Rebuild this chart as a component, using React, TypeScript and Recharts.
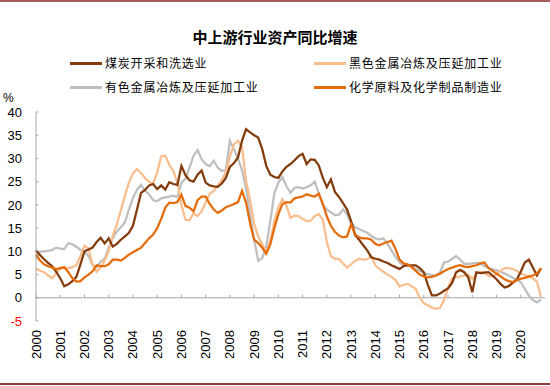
import React from "react";
import {
  LineChart,
  Line,
  XAxis,
  YAxis,
  ReferenceLine,
} from "recharts";

// 双月数据：每年 1、3、5、7、9、11 月
const YEARS = [
  2000, 2001, 2002, 2003, 2004, 2005, 2006, 2007, 2008, 2009, 2010,
  2011, 2012, 2013, 2014, 2015, 2016, 2017, 2018, 2019, 2020,
];
const MONTH_OFFSETS = [0, 2, 4, 6, 8, 10];

const COAL = [
  10.2, 9.2, 8.3, 7.5, 6.8, 5.6,
  4.2, 2.5, 2.9, 3.6, 4.5, 7.2,
  10.0, 10.4, 10.8, 12.0, 12.9, 11.7,
  12.8, 11.0, 11.6, 12.5, 13.2, 14.0,
  15.5, 19.0, 22.6, 23.2, 24.2, 24.5,
  23.4, 24.2, 23.3, 24.9, 24.5, 24.3,
  28.4, 26.4, 25.3, 25.0, 26.5, 27.4,
  24.8, 24.2, 24.0, 23.9, 24.6, 25.8,
  28.2, 29.0, 30.2, 33.8, 36.3, 35.6,
  35.0, 34.5, 32.0, 28.4, 26.5, 26.0,
  25.8, 27.2, 28.2, 28.8, 29.6, 30.5,
  31.0, 28.8, 29.8, 29.7, 28.5, 25.8,
  23.8, 25.5, 22.8, 21.7, 20.4, 19.0,
  16.5, 13.5, 12.5, 11.3, 10.2, 8.7,
  8.4, 8.2, 7.8, 7.5, 7.0, 6.6,
  6.2, 6.8, 7.0, 7.0, 7.0, 6.4,
  5.5, 2.8, 0.5, 0.5, 0.9, 1.5,
  2.0, 3.2, 5.5, 6.0, 5.5, 4.4,
  1.2, 5.5, 5.3, 5.4, 5.5, 4.8,
  4.0, 3.0, 2.2, 2.5, 3.2, 3.9,
  5.6, 7.6, 8.2, 6.5, 4.8, 6.3,
];

const FERROUS = [
  6.3, 5.8, 5.5, 4.8, 4.2, 5.2,
  6.4, 6.3, 6.4, 6.6, 7.0, 9.0,
  11.2, 10.6, 7.2, 5.6, 6.5, 8.0,
  10.0, 13.4, 15.8, 18.8, 22.0, 24.8,
  26.8, 27.7, 26.8, 25.8, 24.9, 24.6,
  27.0, 30.5, 30.6, 28.6, 27.3, 24.8,
  20.0, 16.8, 16.7, 18.2, 17.6, 18.6,
  20.5, 22.4, 23.0, 24.2, 25.4, 27.0,
  30.4, 33.0, 33.8, 32.5, 25.2, 21.0,
  16.0, 13.2, 11.5, 9.8, 12.2, 16.5,
  19.5, 21.2, 19.8, 17.2, 17.7, 17.6,
  17.0, 16.5, 16.6, 17.6, 18.0, 16.8,
  12.0, 9.0, 8.4, 8.4, 7.4, 6.5,
  7.2, 8.0, 8.4, 8.2, 8.3, 9.0,
  7.0, 6.2, 5.6, 5.0, 4.5, 3.8,
  2.4, 2.8, 3.0, 2.5, 1.9, 0.0,
  -1.2, -1.6, -2.1, -2.4, -2.2, -0.5,
  2.2, 4.1, 4.4, 4.6, 4.8, 5.0,
  4.0, 5.2, 5.5, 5.4, 4.7, 4.6,
  5.0, 5.8, 6.4, 6.4, 6.2, 5.8,
  5.2, 4.9, 4.5, 4.2, 3.5, 0.2,
];

const NONFERROUS = [
  8.5, 10.0, 10.0, 10.1, 10.3, 10.8,
  10.6, 10.5, 11.8, 11.5, 11.0, 10.3,
  10.0, 9.0, 7.0, 6.6, 7.8, 8.4,
  10.8, 12.8, 14.3, 15.2, 16.2, 19.0,
  21.5, 23.3, 24.3, 23.0, 22.3, 21.0,
  20.8, 21.4, 21.6, 21.8, 22.0, 21.7,
  24.8, 25.6, 28.0, 30.6, 31.8, 29.8,
  28.8, 28.3, 29.5, 28.0, 27.3, 27.5,
  33.8, 32.0, 30.0, 27.5, 23.5, 18.0,
  12.5, 8.0, 8.5, 11.0, 16.5, 22.5,
  24.8, 26.0, 24.0, 22.6, 23.7, 23.8,
  23.5, 23.8, 24.2, 25.0, 22.5, 20.0,
  19.0, 18.4, 17.8, 17.9, 19.0, 18.0,
  16.0, 15.2, 14.8, 14.4, 14.0, 13.3,
  12.8, 12.6, 12.8, 11.6, 10.2, 8.8,
  7.6, 7.0, 7.1, 6.7, 6.2, 5.8,
  5.3, 5.1, 4.9, 4.8, 5.4, 7.6,
  7.8, 8.4, 9.0, 8.2, 7.3, 7.3,
  7.4, 7.5, 7.4, 6.8, 6.4, 6.2,
  5.9, 5.6, 5.2, 4.8, 4.3, 3.9,
  3.4, 1.9, 0.5, -0.5, -1.0, -0.4,
];

const CHEMICAL = [
  9.3, 8.0, 7.2, 6.8, 6.5, 6.2,
  6.4, 6.6, 5.5, 4.2, 3.5, 3.6,
  4.4, 5.0, 5.7, 7.0, 6.8, 6.8,
  7.2, 8.2, 8.2, 8.0, 8.6, 9.3,
  9.8, 10.3, 10.8, 11.8, 12.8, 13.6,
  15.0, 17.0, 19.4, 20.5, 20.4, 20.6,
  22.2, 19.8, 19.4, 18.6, 21.0, 21.8,
  21.8, 20.2, 19.0, 18.3, 18.8, 19.5,
  19.8, 20.2, 20.6, 23.0, 20.5, 16.0,
  12.5, 11.8, 10.8, 9.5, 11.5, 15.0,
  18.0, 20.2, 20.6, 20.5, 21.4, 21.6,
  21.8, 22.3, 22.0, 21.8, 22.4, 20.2,
  17.5, 15.5, 14.2, 13.4, 13.0, 13.2,
  15.8, 13.6, 13.0, 12.8, 12.8, 12.5,
  11.6, 11.3, 11.7, 12.0, 12.3, 10.5,
  8.2, 7.4, 7.2, 6.6, 5.8, 5.0,
  4.6, 4.4, 4.5, 4.8, 5.2, 5.7,
  6.2, 6.5, 6.8, 7.0, 6.7, 6.6,
  6.8, 7.0, 7.4, 7.6, 6.4, 5.8,
  5.2, 4.6, 4.0, 3.6, 3.4, 3.8,
  4.1, 4.3, 4.6, 4.8, 5.2, 6.4,
];

const Y_TICKS = [-5, 0, 5, 10, 15, 20, 25, 30, 35, 40];

const SERIES = [
  { key: "nonferrous", label: "有色金属冶炼及压延加工业", color: "#BFBFBF" },
  { key: "ferrous", label: "黑色金属冶炼及压延加工业", color: "#F9BE8E" },
  { key: "coal", label: "煤炭开采和洗选业", color: "#843C0C" },
  { key: "chemical", label: "化学原料及化学制品制造业", color: "#E46C0A" },
];

// 图例顺序（两列两行）
const LEGEND_ORDER = ["coal", "ferrous", "nonferrous", "chemical"];

const data = YEARS.flatMap((year, yi) =>
  MONTH_OFFSETS.map((m, mi) => {
    const i = yi * MONTH_OFFSETS.length + mi;
    return {
      t: year + m / 12,
      coal: COAL[i],
      ferrous: FERROUS[i],
      nonferrous: NONFERROUS[i],
      chemical: CHEMICAL[i],
    };
  }),
);

const AXIS_GRAY = "#A6A6A6";
const NUM_FONT = '"Liberation Sans", Arial, sans-serif';
const CJK_FONT = '"Noto Sans CJK SC", "Noto Sans", sans-serif';

function YearTick({ x, y, payload }: any) {
  return (
    <text
      x={x}
      y={y}
      transform={`rotate(-90, ${x}, ${y})`}
      textAnchor="end"
      dy="0.35em"
      fontSize={13}
      fontFamily={NUM_FONT}
      fill="#000"
    >
      {payload.value}
    </text>
  );
}

function ValueTick({ x, y, payload }: any) {
  return (
    <text
      x={x}
      y={y}
      textAnchor="end"
      dy="0.36em"
      fontSize={13}
      fontFamily={NUM_FONT}
      fill={payload.value < 0 ? "#FF0000" : "#000"}
    >
      {payload.value}
    </text>
  );
}

export default function App() {
  const legendPos = [
    { left: 70, top: 63 },
    { left: 314, top: 63 },
    { left: 70, top: 87 },
    { left: 314, top: 87 },
  ];

  return (
    <div
      style={{
        position: "fixed",
        left: 0,
        top: 0,
        width: 550,
        height: 386,
        background: "#fff",
        overflow: "hidden",
      }}
    >
      <div
        style={{
          position: "absolute",
          left: 0,
          top: 0,
          width: 550,
          height: 2,
          background: "#A35E5E",
        }}
      />
      <div
        style={{
          position: "absolute",
          left: 0,
          top: 383,
          width: 550,
          height: 2,
          background: "#8E3B3B",
        }}
      />

      <div
        style={{
          position: "absolute",
          left: 0,
          top: 27,
          width: 550,
          textAlign: "center",
          fontFamily: CJK_FONT,
          fontWeight: 700,
          fontSize: 15,
          lineHeight: "20px",
          color: "#000",
        }}
      >
        中上游行业资产同比增速
      </div>

      {LEGEND_ORDER.map((k, i) => {
        const s = SERIES.find((x) => x.key === k)!;
        const pos = legendPos[i];
        return (
          <div key={k}>
            <div
              style={{
                position: "absolute",
                left: pos.left,
                top: pos.top - 1,
                width: 32,
                height: 3,
                background: s.color,
              }}
            />
            <div
              style={{
                position: "absolute",
                left: pos.left + 35,
                top: pos.top - 9,
                fontFamily: CJK_FONT,
                fontSize: 12,
                lineHeight: "18px",
                letterSpacing: 0.8,
                color: "#000",
                whiteSpace: "nowrap",
              }}
            >
              {s.label}
            </div>
          </div>
        );
      })}

      <div
        style={{
          position: "absolute",
          left: 3,
          top: 91,
          fontFamily: NUM_FONT,
          fontSize: 12,
          color: "#000",
        }}
      >
        %
      </div>

      <div style={{ position: "absolute", left: 0, top: 0 }}>
        <LineChart
          width={550}
          height={386}
          data={data}
          margin={{ top: 112, right: 5, bottom: 15, left: 0 }}
        >
          <XAxis
            dataKey="t"
            type="number"
            domain={[2000, 2021]}
            ticks={YEARS}
            interval={0}
            height={50}
            axisLine={false}
            tickLine={false}
            tickSize={0}
            tickMargin={9}
            tick={<YearTick />}
          />
          <YAxis
            type="number"
            domain={[-5, 40]}
            ticks={Y_TICKS}
            interval={0}
            width={36}
            axisLine={{ stroke: AXIS_GRAY, strokeWidth: 1 }}
            tickLine={false}
            tickSize={0}
            tickMargin={14}
            tick={<ValueTick />}
          />
          <ReferenceLine y={0} stroke={AXIS_GRAY} strokeWidth={1} />
          {YEARS.map((yr) => (
            <ReferenceLine
              key={`xt-${yr}`}
              segment={[
                { x: yr, y: 0 },
                { x: yr, y: 0.65 },
              ]}
              stroke={AXIS_GRAY}
              strokeWidth={1}
            />
          ))}
          {Y_TICKS.map((v) => (
            <ReferenceLine
              key={`yt-${v}`}
              segment={[
                { x: 2000, y: v },
                { x: 2000.1, y: v },
              ]}
              stroke={AXIS_GRAY}
              strokeWidth={1}
            />
          ))}
          {SERIES.map((s) => (
            <Line
              key={s.key}
              type="linear"
              dataKey={s.key}
              stroke={s.color}
              strokeWidth={2.25}
              dot={false}
              activeDot={false}
              isAnimationActive={false}
            />
          ))}
        </LineChart>
      </div>
    </div>
  );
}
